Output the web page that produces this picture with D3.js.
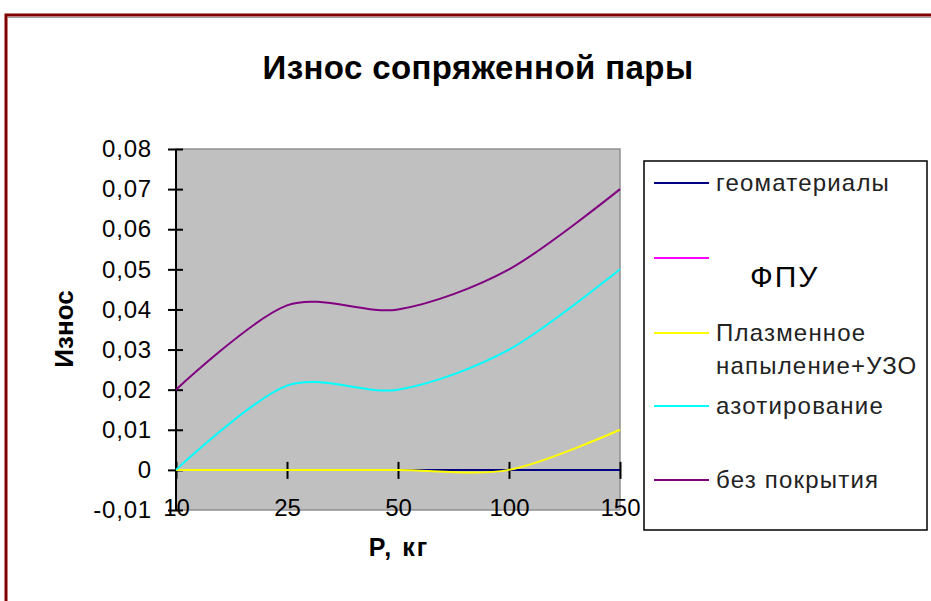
<!DOCTYPE html>
<html>
<head>
<meta charset="utf-8">
<script src="https://cdn.jsdelivr.net/npm/d3@7"></script>
<style>
  body { margin: 0; background: #fff; }
  text { font-family: "Liberation Sans", Arial, sans-serif; }
</style>
</head>
<body>
<div id="vis"></div>
<script>
// data
const categories = ["10", "25", "50", "100", "150"];
const yTicks = [-0.01, 0, 0.01, 0.02, 0.03, 0.04, 0.05, 0.06, 0.07, 0.08];

const geomaterialy = [0, 0, 0, 0, 0];
const fpu = [null, null, null, null, null];
const plazma = [0, 0, 0, 0, 0.01];
const azotirovanie = [0, 0.021, 0.02, 0.03, 0.05];
const bezPokrytiya = [0.02, 0.041, 0.04, 0.05, 0.07];

const seriesNames = ["геоматериалы", "", "Плазменное напыление+УЗО", "азотирование", "без покрытия"];
const seriesColors = ["#000080", "#ff00ff", "#ffff00", "#00ffff", "#800080"];
const seriesValues = [geomaterialy, fpu, plazma, azotirovanie, bezPokrytiya];

const WIDTH = 931;
const HEIGHT = 601;
const plot = { left: 176, top: 149, right: 620, bottom: 510 };

const SVG = d3.select("#vis").append("svg")
  .attr("width", WIDTH).attr("height", HEIGHT);

// outer frame (dark red, only top and left visible)
SVG.append("path")
  .attr("d", `M6,${HEIGHT} V15 H${WIDTH}`)
  .attr("fill", "none").attr("stroke", "#800000").attr("stroke-width", 3);
SVG.append("line")
  .attr("x1", 8).attr("x2", WIDTH).attr("y1", 17.5).attr("y2", 17.5)
  .attr("stroke", "#a0a0a0").attr("stroke-width", 1);

const escalaX = d3.scalePoint().domain(categories).range([plot.left, plot.right]);
const escalaY = d3.scaleLinear().domain([-0.01, 0.08]).range([plot.bottom, plot.top]);

// plot area
SVG.append("rect")
  .attr("x", plot.left).attr("y", plot.top)
  .attr("width", plot.right - plot.left).attr("height", plot.bottom - plot.top)
  .attr("fill", "#c0c0c0").attr("stroke", "#909090").attr("stroke-width", 1.5);

// title
SVG.append("text")
  .attr("x", 478).attr("y", 79)
  .attr("text-anchor", "middle")
  .attr("font-size", 33).attr("font-weight", "bold")
  .attr("letter-spacing", 0.4)
  .text("Износ сопряженной пары");

// y axis
const fmt = (d) => d === 0 ? "0" : d3.format(".2f")(d).replace(".", ",").replace("−", "-");
const ejeY = d3.axisLeft(escalaY).tickValues(yTicks).tickFormat(fmt).tickSize(0).tickPadding(24);
const gY = SVG.append("g").attr("transform", `translate(${plot.left},0)`).call(ejeY);
gY.select(".domain").remove();
gY.selectAll("text")
  .attr("font-size", 24).attr("letter-spacing", 0.8)
  .attr("font-family", "Liberation Sans, Arial, sans-serif");
gY.selectAll(".tick").append("line")
  .attr("x1", -8).attr("x2", 7).attr("stroke", "#000").attr("stroke-width", 2);
SVG.append("line")
  .attr("x1", plot.left).attr("x2", plot.left)
  .attr("y1", plot.top).attr("y2", plot.bottom)
  .attr("stroke", "#000").attr("stroke-width", 2);

// x axis (crosses at 0)
const y0 = escalaY(0);
SVG.append("line")
  .attr("x1", plot.left).attr("x2", plot.right)
  .attr("y1", y0).attr("y2", y0)
  .attr("stroke", "#000").attr("stroke-width", 2);
const ejeX = d3.axisBottom(escalaX).tickSize(0).tickPadding(0);
const gX = SVG.append("g").attr("transform", `translate(0,${y0})`).call(ejeX);
gX.select(".domain").remove();
gX.selectAll(".tick text")
  .attr("font-size", 24).attr("font-family", "Liberation Sans, Arial, sans-serif")
  .attr("y", 38).attr("dy", "0.35em");
gX.selectAll(".tick").append("line")
  .attr("y1", -8).attr("y2", 9).attr("stroke", "#000").attr("stroke-width", 2);

// series
const linea = d3.line()
  .defined((d) => d != null)
  .x((d, i) => escalaX(categories[i]))
  .y((d) => escalaY(d))
  .curve(d3.curveCardinal.tension(0.1));

seriesValues.forEach((vals, k) => {
  if (vals.every((v) => v == null)) return;
  SVG.append("path")
    .attr("d", linea(vals))
    .attr("fill", "none")
    .attr("stroke", seriesColors[k])
    .attr("stroke-width", 2);
});

// axis titles
SVG.append("text")
  .attr("transform", "translate(73,329) rotate(-90)")
  .attr("text-anchor", "middle")
  .attr("font-size", 26).attr("font-weight", "bold")
  .text("Износ");
SVG.append("text")
  .attr("x", 399).attr("y", 556)
  .attr("text-anchor", "middle")
  .attr("font-size", 25).attr("font-weight", "bold")
  .attr("letter-spacing", 2)
  .text("P, кг");

// legend
const leyenda = SVG.append("g");
leyenda.append("rect")
  .attr("x", 644).attr("y", 161).attr("width", 283).attr("height", 369)
  .attr("fill", "#fff").attr("stroke", "#000").attr("stroke-width", 1.5);
const legendY = [183, 258, 333, 406, 480];
seriesNames.forEach((name, k) => {
  leyenda.append("line")
    .attr("x1", 654).attr("x2", 709)
    .attr("y1", legendY[k]).attr("y2", legendY[k])
    .attr("stroke", seriesColors[k]).attr("stroke-width", 2);
});
const legendLabels = [
  { t: ["геоматериалы"], y: 183 },
  { t: ["Плазменное", "напыление+УЗО"], y: 333 },
  { t: ["азотирование"], y: 406 },
  { t: ["без покрытия"], y: 480 },
];
legendLabels.forEach((l) => {
  l.t.forEach((s, j) => {
    leyenda.append("text")
      .attr("x", 716).attr("y", l.y + j * 33)
      .attr("dy", "0.35em")
      .attr("font-size", 24)
      .attr("letter-spacing", 1.2)
      .attr("fill", "#222")
      .text(s);
  });
});
leyenda.append("text")
  .attr("x", 750).attr("y", 276).attr("dy", "0.35em")
  .attr("font-size", 30)
  .attr("letter-spacing", 2)
  .text("ФПУ");
</script>
</body>
</html>
